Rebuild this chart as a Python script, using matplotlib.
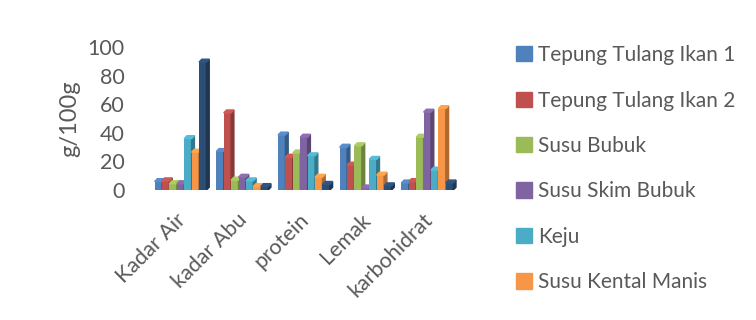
import matplotlib.pyplot as plt
from matplotlib.patches import Polygon, Patch
import matplotlib.colors as mcolors
import matplotlib.transforms as mtransforms

categories = ['Kadar Air', 'kadar Abu', 'protein', 'Lemak', 'karbohidrat']
series_names = ['Tepung Tulang Ikan 1', 'Tepung Tulang Ikan 2', 'Susu Bubuk',
                'Susu Skim Bubuk', 'Keju', 'Susu Kental Manis', '']
tti1 = [6, 27, 38.5, 30, 5]
tti2 = [6.5, 54, 23, 17.5, 6]
susu_bubuk = [4.5, 7, 26, 31, 37]
susu_skim = [4.5, 9, 37, 1.5, 54.5]
keju = [36, 6.5, 24, 21.5, 14]
skm = [26.5, 2.5, 9, 10.5, 57]
lain = [89.5, 2.5, 4, 3, 5]
values = [tti1, tti2, susu_bubuk, susu_skim, keju, skm, lain]
colors = ['#4F81BD', '#C0504D', '#9BBB59', '#8064A2', '#4BACC6', '#F79646', '#2C4D75']

plt.rcParams['font.family'] = ['Lato', 'DejaVu Sans']
txt = '#595959'

fig = plt.figure(figsize=(7.56, 3.2), dpi=100)
ax = fig.add_axes([0.198, 0.406, 0.408, 0.447])

w = 0.12     # bar width
dx = 0.045   # depth, x
dy = 2.0     # depth, y
for i, (vals, c) in enumerate(zip(values, colors)):
    side = tuple(v * 0.7 for v in mcolors.to_rgb(c))
    top = tuple(min(1, v * 1.1) for v in mcolors.to_rgb(c))
    for j, v in enumerate(vals):
        x0 = j + (i - 3) * w - w / 2
        ax.bar(x0, v, width=w, align='edge', color=c, zorder=2 + i)
        ax.add_patch(Polygon([(x0 + w, 0), (x0 + w + dx, dy), (x0 + w + dx, v + dy), (x0 + w, v)],
                             closed=True, color=side, zorder=2 + i))
        ax.add_patch(Polygon([(x0, v), (x0 + dx, v + dy), (x0 + w + dx, v + dy), (x0 + w, v)],
                             closed=True, color=top, zorder=2 + i))

ax.set_xlim(-0.5, 4.5)
ax.set_ylim(0, 100)
ax.set_yticks([0, 20, 40, 60, 80, 100])
ax.set_xticks(range(len(categories)))
ax.set_xticklabels(categories, rotation=45, ha='right', va='top', rotation_mode='anchor')
ax.tick_params(length=0, labelsize=15.5, colors=txt)
ax.tick_params(axis='y', pad=18)
ax.tick_params(axis='x', pad=14)
shift = mtransforms.ScaledTranslation(-5 / 100, 0, fig.dpi_scale_trans)
for lbl in ax.get_xticklabels():
    lbl.set_transform(lbl.get_transform() + shift)
for s in ax.spines.values():
    s.set_visible(False)
ax.set_ylabel('g/100g', fontsize=17, color=txt, labelpad=5)

handles = [Patch(color=c) for c in colors[:6]]
fig.legend(handles, series_names[:6], loc='upper left', bbox_to_anchor=(0.672, 0.885),
           frameon=False, fontsize=15, labelcolor=txt, handlelength=0.75, handleheight=0.75,
           handletextpad=0.3, labelspacing=1.22, borderaxespad=0)

plt.savefig('out.png', dpi=100)
